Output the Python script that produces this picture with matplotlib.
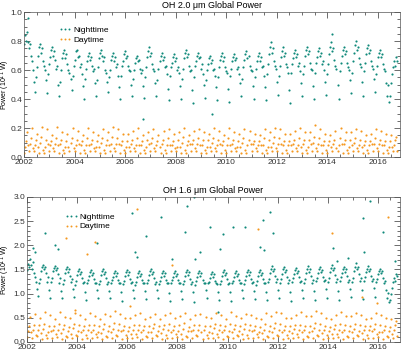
import numpy as np
import matplotlib.pyplot as plt
from matplotlib.ticker import MultipleLocator, FormatStrFormatter

# samples every 0.04 yr starting 2002.0
T0 = 2002.0
DT = 0.04

# OH 2.0 um, nighttime
night_20 = [
    0.78, 0.84, 0.80, 0.86, 0.79, 0.75, 0.78, 0.70, 0.66, 0.60, 0.52, 0.45,
    0.55, 0.62, 0.70, 0.76, 0.78, 0.72, 0.75, 0.66, 0.63, 0.60, 0.53, 0.44,
    0.57, 0.64, 0.69, 0.74, 0.76, 0.70, 0.73, 0.67, 0.61, 0.63, 0.50, 0.42,
    0.52, 0.60, 0.68, 0.72, 0.74, 0.68, 0.71, 0.64, 0.60, 0.58, 0.54, 0.46,
    0.56, 0.63, 0.67, 0.73, 0.74, 0.69, 0.70, 0.62, 0.64, 0.57, 0.49, 0.40,
    0.54, 0.61, 0.66, 0.70, 0.72, 0.67, 0.69, 0.63, 0.59, 0.61, 0.51, 0.42,
    0.53, 0.62, 0.68, 0.72, 0.74, 0.70, 0.66, 0.69, 0.60, 0.58, 0.52, 0.45,
    0.55, 0.60, 0.67, 0.70, 0.72, 0.66, 0.69, 0.62, 0.64, 0.56, 0.48, 0.40,
    0.56, 0.63, 0.66, 0.71, 0.73, 0.68, 0.70, 0.63, 0.60, 0.59, 0.50, 0.42,
    0.54, 0.60, 0.65, 0.68, 0.70, 0.66, 0.67, 0.61, 0.58, 0.60, 0.49, 0.41,
    0.55, 0.62, 0.69, 0.73, 0.76, 0.70, 0.72, 0.64, 0.61, 0.59, 0.51, 0.42,
    0.53, 0.61, 0.66, 0.70, 0.72, 0.67, 0.69, 0.62, 0.63, 0.57, 0.47, 0.39,
    0.56, 0.62, 0.65, 0.69, 0.71, 0.66, 0.68, 0.60, 0.62, 0.58, 0.49, 0.40,
    0.54, 0.61, 0.68, 0.72, 0.74, 0.69, 0.71, 0.63, 0.59, 0.60, 0.46, 0.37,
    0.55, 0.63, 0.66, 0.70, 0.72, 0.68, 0.69, 0.61, 0.64, 0.57, 0.50, 0.41,
    0.53, 0.60, 0.64, 0.68, 0.70, 0.65, 0.67, 0.60, 0.61, 0.56, 0.48, 0.39,
    0.55, 0.62, 0.67, 0.70, 0.72, 0.66, 0.69, 0.62, 0.59, 0.58, 0.47, 0.38,
    0.56, 0.61, 0.66, 0.69, 0.71, 0.67, 0.68, 0.61, 0.62, 0.57, 0.51, 0.42,
    0.54, 0.62, 0.67, 0.71, 0.73, 0.68, 0.70, 0.63, 0.60, 0.59, 0.49, 0.40,
    0.55, 0.61, 0.66, 0.70, 0.72, 0.66, 0.69, 0.62, 0.63, 0.56, 0.48, 0.39,
    0.57, 0.64, 0.71, 0.76, 0.79, 0.72, 0.75, 0.66, 0.63, 0.61, 0.52, 0.43,
    0.56, 0.63, 0.69, 0.73, 0.76, 0.70, 0.72, 0.64, 0.62, 0.58, 0.46, 0.37,
    0.58, 0.64, 0.68, 0.72, 0.74, 0.69, 0.71, 0.63, 0.65, 0.59, 0.51, 0.42,
    0.57, 0.63, 0.70, 0.74, 0.76, 0.71, 0.73, 0.65, 0.61, 0.60, 0.49, 0.40,
    0.58, 0.65, 0.69, 0.73, 0.75, 0.70, 0.72, 0.64, 0.66, 0.60, 0.52, 0.43,
    0.57, 0.64, 0.71, 0.76, 0.79, 0.73, 0.75, 0.67, 0.63, 0.61, 0.50, 0.40,
    0.59, 0.65, 0.70, 0.74, 0.76, 0.71, 0.73, 0.65, 0.62, 0.60, 0.53, 0.44,
    0.58, 0.66, 0.72, 0.77, 0.80, 0.74, 0.76, 0.68, 0.64, 0.62, 0.52, 0.42,
    0.59, 0.65, 0.71, 0.75, 0.77, 0.72, 0.74, 0.66, 0.63, 0.61, 0.54, 0.45,
    0.57, 0.63, 0.69, 0.72, 0.74, 0.69, 0.71, 0.64, 0.61, 0.59, 0.51, 0.42,
    0.50, 0.38, 0.42, 0.51, 0.57, 0.62, 0.66, 0.63, 0.69, 0.66,
]

# OH 2.0 um, daytime
day_20 = [
    0.03, 0.07, 0.11, 0.17, 0.08, 0.04, 0.09, 0.13, 0.20, 0.06,
    0.04, 0.08, 0.12, 0.16, 0.07, 0.03, 0.10, 0.14, 0.21, 0.05,
    0.03, 0.07, 0.12, 0.19, 0.09, 0.04, 0.08, 0.11, 0.15, 0.06,
    0.04, 0.09, 0.13, 0.21, 0.08, 0.03, 0.09, 0.12, 0.17, 0.05,
    0.03, 0.07, 0.11, 0.16, 0.07, 0.04, 0.10, 0.13, 0.20, 0.06,
    0.04, 0.08, 0.12, 0.18, 0.09, 0.03, 0.08, 0.11, 0.15, 0.05,
    0.03, 0.08, 0.13, 0.20, 0.08, 0.04, 0.09, 0.12, 0.17, 0.06,
    0.04, 0.07, 0.11, 0.15, 0.07, 0.03, 0.10, 0.13, 0.19, 0.05,
    0.03, 0.08, 0.12, 0.17, 0.08, 0.04, 0.09, 0.14, 0.21, 0.06,
    0.04, 0.09, 0.13, 0.19, 0.09, 0.03, 0.08, 0.11, 0.16, 0.05,
    0.03, 0.07, 0.11, 0.16, 0.07, 0.04, 0.09, 0.12, 0.18, 0.06,
    0.04, 0.08, 0.13, 0.20, 0.08, 0.03, 0.08, 0.11, 0.15, 0.05,
    0.03, 0.07, 0.12, 0.17, 0.09, 0.04, 0.10, 0.13, 0.19, 0.06,
    0.04, 0.08, 0.11, 0.15, 0.07, 0.03, 0.09, 0.12, 0.18, 0.05,
    0.03, 0.08, 0.13, 0.19, 0.08, 0.04, 0.08, 0.11, 0.16, 0.06,
    0.04, 0.07, 0.12, 0.17, 0.07, 0.03, 0.10, 0.14, 0.20, 0.05,
    0.03, 0.08, 0.11, 0.15, 0.09, 0.04, 0.09, 0.12, 0.18, 0.06,
    0.04, 0.09, 0.13, 0.19, 0.08, 0.03, 0.08, 0.12, 0.17, 0.05,
    0.03, 0.07, 0.12, 0.16, 0.07, 0.04, 0.10, 0.13, 0.20, 0.06,
    0.04, 0.08, 0.12, 0.18, 0.09, 0.03, 0.08, 0.11, 0.15, 0.05,
    0.03, 0.08, 0.13, 0.20, 0.08, 0.04, 0.09, 0.12, 0.17, 0.06,
    0.04, 0.07, 0.11, 0.16, 0.07, 0.03, 0.10, 0.13, 0.19, 0.05,
    0.03, 0.08, 0.12, 0.18, 0.09, 0.04, 0.09, 0.11, 0.16, 0.06,
    0.04, 0.08, 0.11, 0.15, 0.08, 0.03, 0.08, 0.13, 0.19, 0.05,
    0.03, 0.07, 0.12, 0.17, 0.07, 0.04, 0.10, 0.14, 0.20, 0.06,
    0.04, 0.09, 0.13, 0.19, 0.09, 0.03, 0.08, 0.11, 0.16, 0.05,
    0.03, 0.08, 0.11, 0.16, 0.08, 0.04, 0.09, 0.12, 0.18, 0.06,
    0.04, 0.08, 0.13, 0.20, 0.07, 0.03, 0.09, 0.12, 0.17, 0.05,
    0.03, 0.07, 0.12, 0.17, 0.09, 0.04, 0.10, 0.14, 0.22, 0.06,
    0.04, 0.09, 0.13, 0.19, 0.08, 0.03, 0.08, 0.11, 0.16, 0.05,
    0.03, 0.08, 0.11, 0.15, 0.07, 0.04, 0.09, 0.12, 0.18, 0.06,
    0.04, 0.08, 0.13, 0.20, 0.09, 0.03, 0.09, 0.12, 0.17, 0.05,
    0.03, 0.07, 0.12, 0.17, 0.08, 0.04, 0.10, 0.13, 0.19, 0.06,
    0.04, 0.08, 0.12, 0.18, 0.07, 0.03, 0.08, 0.11, 0.15, 0.05,
    0.03, 0.08, 0.11, 0.16, 0.09, 0.04, 0.09, 0.13, 0.19, 0.06,
    0.04, 0.09, 0.12, 0.18, 0.08, 0.03, 0.08, 0.11, 0.16, 0.05,
    0.03, 0.07, 0.11, 0.15, 0.07, 0.04, 0.08, 0.12, 0.14, 0.04,
]

# OH 1.6 um, nighttime
night_16 = [
    1.48, 1.62, 1.55, 1.72, 1.60, 1.50, 1.65, 1.42, 1.35, 1.25, 1.10, 0.95,
    1.22, 1.30, 1.47, 1.56, 1.60, 1.50, 1.55, 1.42, 1.24, 1.35, 1.08, 0.92,
    1.25, 1.32, 1.46, 1.54, 1.58, 1.48, 1.53, 1.40, 1.22, 1.33, 1.05, 0.90,
    1.20, 1.28, 1.43, 1.51, 1.55, 1.45, 1.50, 1.37, 1.25, 1.30, 1.09, 0.94,
    1.18, 1.27, 1.38, 1.46, 1.50, 1.40, 1.45, 1.32, 1.21, 1.25, 1.04, 0.86,
    1.21, 1.29, 1.36, 1.44, 1.48, 1.38, 1.43, 1.30, 1.22, 1.23, 1.07, 0.90,
    1.19, 1.26, 1.38, 1.46, 1.50, 1.40, 1.45, 1.32, 1.20, 1.25, 1.06, 0.92,
    1.22, 1.28, 1.35, 1.43, 1.47, 1.37, 1.42, 1.29, 1.23, 1.22, 1.03, 0.85,
    1.20, 1.27, 1.37, 1.45, 1.49, 1.39, 1.44, 1.31, 1.21, 1.24, 1.08, 0.91,
    1.18, 1.25, 1.34, 1.42, 1.46, 1.36, 1.41, 1.28, 1.22, 1.21, 1.05, 0.88,
    1.21, 1.29, 1.38, 1.46, 1.50, 1.40, 1.45, 1.32, 1.20, 1.25, 1.07, 0.90,
    1.19, 1.26, 1.35, 1.43, 1.47, 1.37, 1.42, 1.29, 1.23, 1.22, 1.02, 0.84,
    1.22, 1.28, 1.34, 1.42, 1.46, 1.36, 1.41, 1.28, 1.21, 1.21, 1.06, 0.89,
    1.20, 1.27, 1.37, 1.45, 1.49, 1.39, 1.44, 1.31, 1.20, 1.24, 1.03, 0.82,
    1.18, 1.26, 1.35, 1.43, 1.47, 1.37, 1.42, 1.29, 1.23, 1.22, 1.07, 0.90,
    1.21, 1.25, 1.33, 1.41, 1.45, 1.35, 1.40, 1.27, 1.21, 1.20, 1.04, 0.86,
    1.19, 1.27, 1.36, 1.44, 1.48, 1.38, 1.43, 1.30, 1.20, 1.23, 1.03, 0.85,
    1.22, 1.26, 1.34, 1.42, 1.46, 1.36, 1.41, 1.28, 1.22, 1.21, 1.08, 0.91,
    1.20, 1.28, 1.37, 1.45, 1.49, 1.39, 1.44, 1.31, 1.21, 1.24, 1.05, 0.88,
    1.18, 1.27, 1.36, 1.44, 1.48, 1.38, 1.43, 1.30, 1.23, 1.23, 1.04, 0.86,
    1.24, 1.31, 1.43, 1.52, 1.58, 1.46, 1.51, 1.37, 1.24, 1.30, 1.08, 0.92,
    1.22, 1.30, 1.41, 1.50, 1.55, 1.44, 1.49, 1.35, 1.22, 1.28, 1.03, 0.84,
    1.25, 1.32, 1.40, 1.48, 1.53, 1.42, 1.47, 1.34, 1.25, 1.27, 1.08, 0.90,
    1.23, 1.31, 1.43, 1.52, 1.57, 1.45, 1.50, 1.36, 1.23, 1.29, 1.05, 0.87,
    1.26, 1.33, 1.42, 1.50, 1.55, 1.44, 1.49, 1.35, 1.26, 1.28, 1.09, 0.91,
    1.24, 1.32, 1.45, 1.54, 1.60, 1.48, 1.53, 1.38, 1.24, 1.31, 1.06, 0.86,
    1.26, 1.34, 1.43, 1.51, 1.56, 1.45, 1.50, 1.36, 1.25, 1.29, 1.10, 0.93,
    1.25, 1.33, 1.46, 1.56, 1.63, 1.50, 1.55, 1.40, 1.26, 1.32, 1.07, 0.88,
    1.27, 1.34, 1.44, 1.52, 1.57, 1.46, 1.51, 1.37, 1.27, 1.30, 1.11, 0.94,
    1.24, 1.31, 1.40, 1.47, 1.51, 1.42, 1.46, 1.33, 1.22, 1.26, 1.07, 0.90,
    1.02, 0.82, 0.86, 1.00, 1.12, 1.24, 1.32, 1.27, 1.40, 1.36,
]

# OH 1.6 um, daytime
day_16 = [
    0.10, 0.22, 0.33, 0.52, 0.20, 0.08, 0.25, 0.36, 0.58, 0.15,
    0.12, 0.24, 0.35, 0.49, 0.18, 0.06, 0.27, 0.38, 0.62, 0.14,
    0.09, 0.21, 0.34, 0.56, 0.22, 0.08, 0.24, 0.33, 0.47, 0.16,
    0.11, 0.25, 0.37, 0.63, 0.19, 0.07, 0.26, 0.35, 0.52, 0.13,
    0.10, 0.22, 0.32, 0.50, 0.17, 0.08, 0.28, 0.37, 0.60, 0.15,
    0.12, 0.23, 0.35, 0.55, 0.21, 0.06, 0.24, 0.33, 0.48, 0.14,
    0.09, 0.24, 0.36, 0.61, 0.20, 0.08, 0.25, 0.35, 0.53, 0.16,
    0.11, 0.21, 0.33, 0.47, 0.18, 0.07, 0.27, 0.38, 0.58, 0.13,
    0.10, 0.23, 0.34, 0.53, 0.20, 0.08, 0.26, 0.39, 0.64, 0.15,
    0.12, 0.25, 0.37, 0.58, 0.22, 0.06, 0.24, 0.33, 0.50, 0.14,
    0.09, 0.22, 0.32, 0.49, 0.17, 0.08, 0.25, 0.35, 0.55, 0.16,
    0.11, 0.24, 0.36, 0.61, 0.20, 0.07, 0.24, 0.33, 0.47, 0.13,
    0.10, 0.21, 0.34, 0.52, 0.21, 0.08, 0.28, 0.37, 0.58, 0.15,
    0.12, 0.23, 0.33, 0.47, 0.18, 0.06, 0.26, 0.35, 0.55, 0.14,
    0.09, 0.24, 0.37, 0.59, 0.20, 0.08, 0.24, 0.33, 0.50, 0.16,
    0.11, 0.22, 0.35, 0.53, 0.17, 0.07, 0.27, 0.39, 0.61, 0.13,
    0.10, 0.23, 0.32, 0.48, 0.22, 0.08, 0.25, 0.35, 0.56, 0.15,
    0.12, 0.25, 0.36, 0.58, 0.20, 0.06, 0.24, 0.34, 0.52, 0.14,
    0.09, 0.21, 0.34, 0.50, 0.18, 0.08, 0.28, 0.37, 0.61, 0.16,
    0.11, 0.24, 0.35, 0.55, 0.21, 0.07, 0.24, 0.33, 0.47, 0.13,
    0.10, 0.22, 0.37, 0.62, 0.20, 0.08, 0.26, 0.35, 0.53, 0.15,
    0.12, 0.23, 0.33, 0.49, 0.17, 0.06, 0.27, 0.38, 0.58, 0.14,
    0.09, 0.24, 0.35, 0.56, 0.22, 0.08, 0.25, 0.33, 0.50, 0.16,
    0.11, 0.21, 0.32, 0.47, 0.19, 0.07, 0.24, 0.37, 0.59, 0.13,
    0.10, 0.23, 0.34, 0.53, 0.20, 0.08, 0.28, 0.39, 0.63, 0.15,
    0.12, 0.25, 0.37, 0.59, 0.21, 0.06, 0.24, 0.33, 0.50, 0.14,
    0.09, 0.22, 0.33, 0.50, 0.18, 0.08, 0.26, 0.35, 0.56, 0.16,
    0.11, 0.24, 0.36, 0.62, 0.20, 0.07, 0.25, 0.34, 0.53, 0.13,
    0.10, 0.21, 0.34, 0.53, 0.22, 0.08, 0.28, 0.39, 0.65, 0.15,
    0.12, 0.25, 0.37, 0.59, 0.19, 0.06, 0.24, 0.33, 0.50, 0.14,
    0.09, 0.23, 0.32, 0.47, 0.17, 0.08, 0.26, 0.36, 0.56, 0.16,
    0.11, 0.24, 0.37, 0.62, 0.21, 0.07, 0.25, 0.35, 0.53, 0.13,
    0.10, 0.22, 0.34, 0.53, 0.20, 0.08, 0.27, 0.38, 0.59, 0.15,
    0.12, 0.23, 0.35, 0.56, 0.18, 0.06, 0.24, 0.33, 0.47, 0.14,
    0.09, 0.24, 0.33, 0.50, 0.22, 0.08, 0.26, 0.37, 0.59, 0.16,
    0.11, 0.21, 0.36, 0.56, 0.20, 0.07, 0.25, 0.34, 0.50, 0.13,
    0.10, 0.22, 0.32, 0.47, 0.17, 0.08, 0.24, 0.35, 0.44, 0.12,
]

# isolated points (year, power)
night_20_out_t = [2002.15, 2006.70, 2009.43, 2014.20]
night_20_out_v = [0.96, 0.26, 0.30, 0.85]

night_16_out_t = [2002.25, 2002.30, 2002.70, 2003.10, 2003.25, 2004.80, 2006.20,
                  2006.30, 2006.40, 2006.75, 2007.35, 2007.80, 2008.30, 2008.40,
                  2008.65, 2008.70, 2008.90, 2009.30, 2009.60, 2009.70, 2009.80,
                  2010.20, 2010.70, 2011.30, 2011.40, 2011.45, 2011.70, 2011.80,
                  2014.20, 2014.35, 2014.80, 2015.40, 2015.45, 2015.70, 2016.20,
                  2016.70]
night_16_out_v = [1.95, 1.86, 2.25, 2.00, 1.92, 2.05, 2.67,
                  1.86, 1.76, 2.19, 2.59, 1.72, 2.28, 2.82,
                  2.99, 1.72, 1.86, 2.38, 0.62, 1.93, 2.24,
                  2.38, 2.38, 1.97, 2.53, 1.90, 2.69, 2.26,
                  1.95, 1.68, 1.74, 2.56, 1.86, 2.92, 2.28,
                  1.68]

day_16_out_t = [2003.55, 2003.90, 2004.40, 2004.70, 2006.10, 2006.40, 2007.80,
                2011.20, 2014.15, 2015.35, 2015.95, 2016.40]
day_16_out_v = [2.15, 0.66, 1.82, 2.07, 0.75, 2.75, 1.60,
                2.33, 2.26, 0.93, 0.80, 2.59]

TEAL = '#10897a'
ORANGE = '#f5981f'

plt.rcParams['font.family'] = ['Liberation Sans', 'DejaVu Sans']


def years(vals):
    return T0 + DT * np.arange(len(vals))


def style_axis(ax, ymax, ymajor, yminor, title, label_x):
    ax.set_xlim(2002.0, 2016.87)
    ax.set_ylim(0, ymax)
    ax.xaxis.set_major_locator(MultipleLocator(2))
    ax.xaxis.set_minor_locator(MultipleLocator(0.5))
    ax.yaxis.set_major_locator(MultipleLocator(ymajor))
    ax.yaxis.set_minor_locator(MultipleLocator(yminor))
    ax.yaxis.set_major_formatter(FormatStrFormatter('%.1f'))
    ax.tick_params(which='both', direction='in', top=True, right=True,
                   labelsize=6, width=0.5, pad=1.5, colors='#333333')
    ax.tick_params(axis='y', pad=1.0)
    ax.tick_params(which='major', length=4)
    ax.tick_params(which='minor', length=2)
    for sp in ax.spines.values():
        sp.set_linewidth(0.5)
        sp.set_color('#555555')
    ax.set_ylabel('Power (10$^{11}$ W)', fontsize=5)
    ax.yaxis.set_label_coords(label_x, 0.5)
    ax.set_title(title, fontsize=6.5, pad=3)


fig = plt.figure(figsize=(4.1, 3.5), dpi=100)
ax1 = fig.add_axes([0.0585, 0.5514, 0.917, 0.4143])
ax2 = fig.add_axes([0.066, 0.0229, 0.909, 0.4143])

ms = 3.1
# top panel: OH 2.0 um
ax1.plot(years(night_20), night_20, '.', color=TEAL, ms=ms, mew=0, label='Nighttime')
ax1.plot(night_20_out_t, night_20_out_v, '.', color=TEAL, ms=ms, mew=0)
ax1.plot(years(day_20), day_20, '.', color=ORANGE, ms=ms, mew=0, label='Daytime')
style_axis(ax1, 1.0, 0.2, 0.05, 'OH 2.0 \u03bcm Global Power', -0.0325)

# bottom panel: OH 1.6 um
ax2.plot(years(night_16), night_16, '.', color=TEAL, ms=ms, mew=0, label='Nighttime')
ax2.plot(night_16_out_t, night_16_out_v, '.', color=TEAL, ms=ms, mew=0)
ax2.plot(years(day_16), day_16, '.', color=ORANGE, ms=ms, mew=0, label='Daytime')
ax2.plot(day_16_out_t, day_16_out_v, '.', color=ORANGE, ms=ms, mew=0)
style_axis(ax2, 3.0, 0.5, 0.1, 'OH 1.6 \u03bcm Global Power', -0.040)

for ax, anchor in [(ax1, (0.08, 0.93)), (ax2, (0.09, 0.92))]:
    ax.legend(loc='upper left', bbox_to_anchor=anchor, frameon=False, fontsize=6,
              numpoints=3, markerscale=0.9, handlelength=1.6, handletextpad=0.2,
              labelspacing=0.25, borderpad=0)

fig.savefig('out.png', dpi=100)
